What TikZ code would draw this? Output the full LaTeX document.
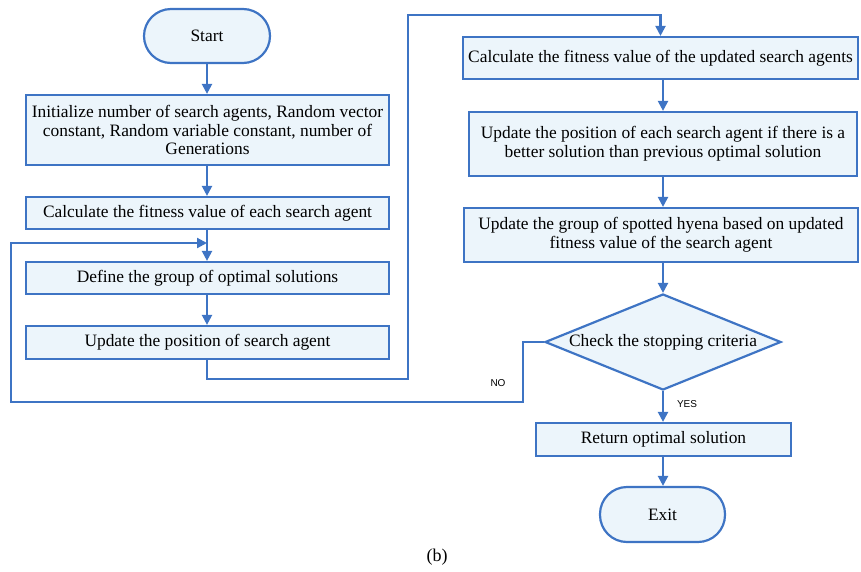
\documentclass[tikz,border=0pt]{standalone}
\usepackage{fontspec}
\setmainfont{Liberation Serif}
\newfontfamily\labelfont{Liberation Sans}
\usetikzlibrary{shapes.geometric,arrows.meta}
\definecolor{flowblue}{RGB}{62,116,196}
\definecolor{flowfill}{RGB}{236,245,251}
\tikzset{
  box/.style={shape=rectangle,draw=flowblue,fill=flowfill,line width=2.2pt,align=center,inner sep=2pt,font=\fontsize{17.4}{18.7}\selectfont},
  terminal/.style={box,rounded corners=27pt},
  decision/.style={shape=diamond,draw=flowblue,fill=flowfill,line width=2.2pt,inner sep=0pt,font=\fontsize{17.4}{18.7}\selectfont},
  flow/.style={draw=flowblue,line width=2.2pt,-{Triangle[width=10pt,length=10pt]}}
}

\begin{document}
\begin{tikzpicture}[x=1pt,y=-1pt]
                    \useasboundingbox (0,0) rectangle (861,571);

                    \node[terminal,minimum width=126pt,minimum height=54pt] (S) at (207,36) {Start};
                    \node[box,minimum width=363pt,minimum height=70pt] (I) at (207.5,130) {Initialize number of search agents, Random vector\\constant, Random variable constant, number of\\Generations};
                    \node[box,minimum width=363pt,minimum height=32pt] (F) at (207.5,213) {Calculate the fitness value of each search agent};
                    \node[box,minimum width=363pt,minimum height=32pt] (D) at (207.5,278) {Define the group of optimal solutions};
                    \node[box,minimum width=363pt,minimum height=33pt] (P) at (207.5,342.5) {Update the position of search agent};

                    \node[box,minimum width=395pt,minimum height=42pt] (U) at (660.5,58) {Calculate the fitness value of the updated search agents};
                    \node[box,minimum width=388pt,minimum height=64pt] (E) at (663,144) {Update the position of each search agent if there is a\\better solution than previous optimal solution};
                    \node[box,minimum width=394pt,minimum height=54pt] (G) at (661,235) {Update the group of spotted hyena based on updated\\fitness value of the search agent};
                    \node[decision,minimum width=236pt,minimum height=96pt,aspect=2.46] (C) at (663,342) {Check the stopping criteria};
                    \node[box,minimum width=255pt,minimum height=33pt] (R) at (663.5,439.5) {Return optimal solution};
                    \node[terminal,minimum width=125pt,minimum height=55pt] (X) at (662.5,514.5) {Exit};

                    \coordinate (loopin) at (207,243);
                    \node[font=\labelfont\fontsize{10}{12}\selectfont] (no) at (498,383) {NO};
                    \node[font=\labelfont\fontsize{10}{12}\selectfont] (yes) at (687,404) {YES};
                    \node[font=\fontsize{18}{20}\selectfont] (cap) at (437,557) {(b)};

                    \path[flow] (S.south -| loopin) -- (I.north -| loopin);
                    \path[flow] (I.south -| loopin) -- (F.north -| loopin);
                    \path[flow] (F.south -| loopin) -- (D.north -| loopin);
                    \path[flow] (D.south -| loopin) -- (P.north -| loopin);
                    \path[flow] (P.south -| loopin) -- (207,379) -- (408,379) -- (408,15) -- (U.north |- 0,15) -- (U.north);

                    \path[flow] (U.south -| C) -- (E.north -| C);
                    \path[flow] (E.south -| C) -- (G.north -| C);
                    \path[flow] (G.south -| C) -- (C.north);
                    \path[flow] (C.south) -- (R.north -| C);
                    \path[flow] (R.south -| C) -- (X.north -| C);

                    \path[flow] (C.west) -- (523,342) -- (523,402) -- (11,402) -- (11,243) -- (loopin);
                \end{tikzpicture}
\end{document}
